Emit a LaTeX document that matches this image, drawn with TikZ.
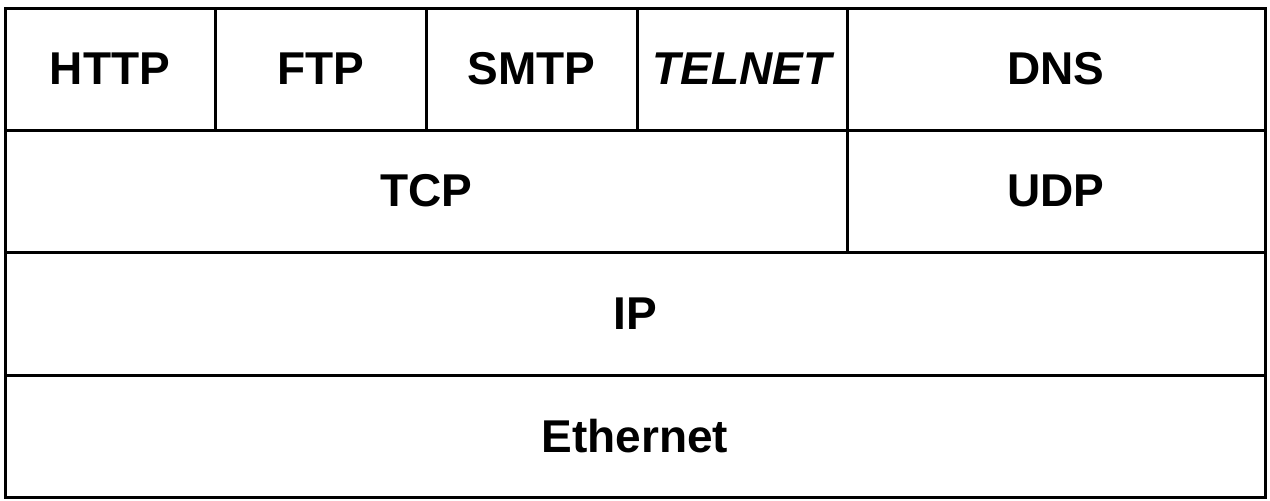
\documentclass[tikz,border=0pt]{standalone}
\usepackage{fontspec}
\setmainfont{Liberation Sans}
\begin{document}
\begin{tikzpicture}[x=0.5pt,y=-0.5pt,line width=1.5pt,
  every node/.style={font=\fontsize{23}{27}\selectfont\bfseries}]
\useasboundingbox (0,0) rectangle (1270,500);

\draw (5,8) rectangle (215,130);
\node (http) at (110,69) {HTTP};

\draw (215,8) rectangle (426,130);
\node (ftp) at (320.5,69) {FTP};

\draw (426,8) rectangle (637,130);
\node (smtp) at (531.5,69) {SMTP};

\draw (637,8) rectangle (847,130);
\node (telnet) at (742,69) {\itshape TELNET};

\draw (847,8) rectangle (1265,130);
\node (dns) at (1056,69) {DNS};

\draw (5,130) rectangle (847,252);
\node (tcp) at (426,191) {TCP};

\draw (847,130) rectangle (1265,252);
\node (udp) at (1056,191) {UDP};

\draw (5,252) rectangle (1265,375);
\node (ip) at (635,313.5) {IP};

\draw (5,375) rectangle (1265,497);
\node (ethernet) at (635,436) {Ethernet};
\end{tikzpicture}
\end{document}
